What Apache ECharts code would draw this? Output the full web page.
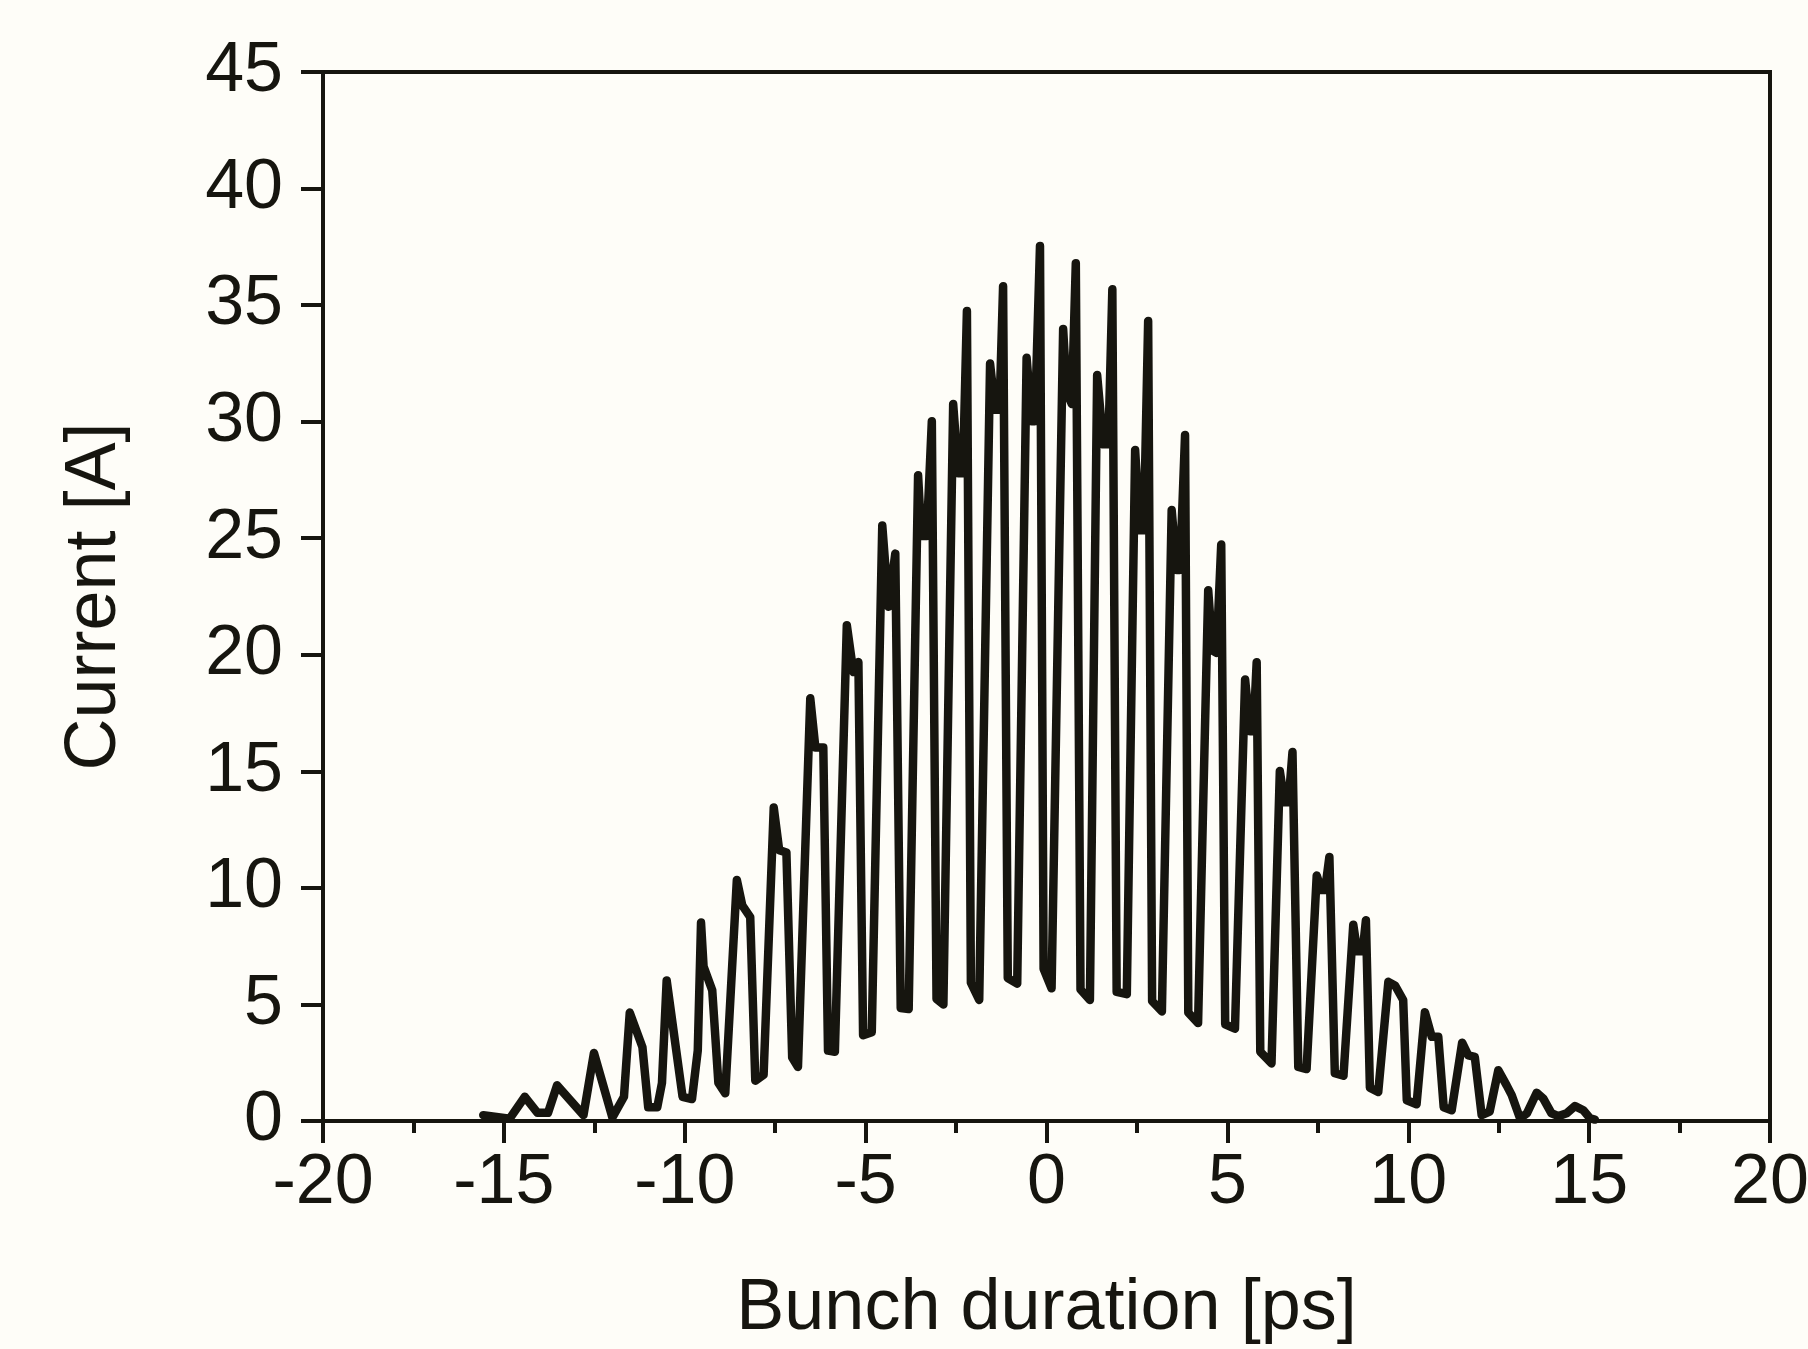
<!DOCTYPE html>
<html>
<head>
<meta charset="utf-8">
<title>Bunch current profile</title>
<script src="https://cdn.jsdelivr.net/npm/echarts@6/dist/echarts.min.js"></script>
<style>
  html, body { margin: 0; padding: 0; background: #fefdf8; }
  #chart { width: 1808px; height: 1349px; }
</style>
</head>
<body>
<div id="chart"></div>
<script>
// values (ps, A)
var timePs = [
  -15.57, -14.84, -14.42, -14.07, -13.78, -13.53, -12.80, -12.51, -12.00, -11.68,
  -11.52, -11.17, -11.01, -10.76, -10.63, -10.50, -10.06, -9.80, -9.64, -9.55,
  -9.48, -9.24, -9.07, -8.88, -8.56, -8.41, -8.19, -8.05, -7.82, -7.54,
  -7.39, -7.19, -7.03, -6.87, -6.53, -6.39, -6.17, -6.04, -5.85, -5.52,
  -5.34, -5.20, -5.07, -4.83, -4.54, -4.37, -4.18, -4.03, -3.81, -3.55,
  -3.46, -3.31, -3.17, -3.04, -2.85, -2.58, -2.44, -2.31, -2.20, -2.09,
  -1.86, -1.56, -1.42, -1.30, -1.20, -1.07, -0.81, -0.55, -0.41, -0.32,
  -0.18, -0.08, 0.14, 0.46, 0.56, 0.70, 0.81, 0.94, 1.20, 1.40,
  1.57, 1.71, 1.82, 1.94, 2.22, 2.45, 2.58, 2.69, 2.81, 2.92,
  3.19, 3.46, 3.60, 3.69, 3.83, 3.92, 4.19, 4.47, 4.59, 4.70,
  4.83, 4.94, 5.21, 5.49, 5.63, 5.72, 5.81, 5.91, 6.22, 6.45,
  6.58, 6.69, 6.80, 6.96, 7.19, 7.47, 7.60, 7.70, 7.82, 7.97,
  8.21, 8.48, 8.59, 8.74, 8.83, 8.94, 9.17, 9.45, 9.64, 9.86,
  9.96, 10.23, 10.46, 10.65, 10.83, 10.98, 11.20, 11.49, 11.66, 11.84,
  12.03, 12.25, 12.49, 12.72, 12.86, 13.09, 13.28, 13.55, 13.73, 13.96,
  14.15, 14.38, 14.61, 14.84, 15.03, 15.16
];
var currentA = [
  0.25, 0.10, 1.04, 0.35, 0.35, 1.53, 0.25, 2.92, 0.15, 1.04,
  4.65, 3.17, 0.59, 0.59, 1.63, 6.03, 1.04, 0.94, 3.02, 8.51,
  6.63, 5.61, 1.63, 1.19, 10.34, 9.25, 8.75, 1.73, 1.98, 13.45,
  11.62, 11.52, 2.72, 2.32, 18.13, 16.02, 16.02, 3.02, 2.97, 21.27,
  19.26, 19.69, 3.68, 3.81, 25.55, 22.06, 24.34, 4.85, 4.80, 27.70,
  25.09, 25.09, 30.02, 5.24, 5.00, 30.76, 27.79, 27.79, 34.75, 5.93,
  5.19, 32.49, 30.51, 30.51, 35.81, 6.13, 5.89, 32.74, 30.02, 30.02,
  37.54, 6.53, 5.69, 33.98, 31.26, 30.76, 36.80, 5.64, 5.19, 32.00,
  29.03, 29.03, 35.68, 5.54, 5.44, 28.78, 25.34, 25.34, 34.32, 5.14,
  4.70, 26.21, 23.64, 23.64, 29.43, 4.65, 4.20, 22.77, 20.18, 20.08,
  24.73, 4.15, 3.96, 18.94, 16.72, 16.72, 19.68, 2.97, 2.47, 15.01,
  13.67, 13.67, 15.83, 2.32, 2.23, 10.53, 9.91, 9.91, 11.33, 2.05,
  1.94, 8.42, 7.28, 7.28, 8.61, 1.43, 1.24, 5.97, 5.80, 5.19,
  0.89, 0.72, 4.67, 3.61, 3.61, 0.59, 0.46, 3.36, 2.82, 2.75,
  0.25, 0.40, 2.18, 1.53, 1.11, 0.11, 0.33, 1.21, 0.97, 0.33,
  0.21, 0.33, 0.64, 0.46, 0.11, 0.06
];

var xTicks = [-20, 20, 5];   // min, max, step
var yTicks = [0, 45, 5];

var ink = '#16150f';
var font = '"Liberation Sans", Arial, sans-serif';

var points = timePs.map(function (t, i) { return [t, currentA[i]]; });

var chart = echarts.init(document.getElementById('chart'));
chart.setOption({
  backgroundColor: '#fefdf8',
  animation: false,
  grid: {
    left: 323, right: 38, top: 72, bottom: 228,
    show: true,
    borderColor: ink,
    borderWidth: 4,
    containLabel: false,
    outerBoundsMode: 'none'
  },
  xAxis: {
    type: 'value',
    min: xTicks[0], max: xTicks[1], interval: xTicks[2],
    name: 'Bunch duration [ps]',
    nameLocation: 'middle',
    nameGap: 152,
    nameTextStyle: { fontFamily: font, fontSize: 72, color: ink },
    axisLine: { show: true, onZero: false, lineStyle: { color: ink, width: 4 } },
    axisTick: { show: true, inside: false, length: 22, lineStyle: { color: ink, width: 4 } },
    minorTick: { show: true, splitNumber: 2, length: 12, lineStyle: { color: ink, width: 4 } },
    splitLine: { show: false },
    axisLabel: { fontFamily: font, fontSize: 70, color: ink, margin: 28 }
  },
  yAxis: {
    type: 'value',
    min: yTicks[0], max: yTicks[1], interval: yTicks[2],
    name: 'Current [A]',
    nameLocation: 'middle',
    nameGap: 192,
    nameTextStyle: { fontFamily: font, fontSize: 72, color: ink },
    axisLine: { show: true, onZero: false, lineStyle: { color: ink, width: 4 } },
    axisTick: { show: true, inside: false, length: 22, lineStyle: { color: ink, width: 4 } },
    splitLine: { show: false },
    axisLabel: { fontFamily: font, fontSize: 70, color: ink, margin: 40 }
  },
  series: [{
    type: 'line',
    data: points,
    showSymbol: false,
    symbol: 'none',
    lineStyle: { color: ink, width: 8.5, join: 'round', cap: 'round' }
  }]
});
</script>
</body>
</html>
